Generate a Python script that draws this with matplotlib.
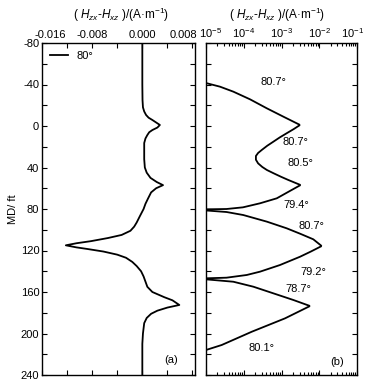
import numpy as np
import matplotlib

matplotlib.use("Agg")
import matplotlib.pyplot as plt
from matplotlib.transforms import ScaledTranslation
from matplotlib.ticker import MultipleLocator, FixedLocator, LogLocator, NullFormatter, FuncFormatter

plt.rcParams["font.family"] = ["Liberation Sans", "DejaVu Sans"]
plt.rcParams["font.size"] = 8
plt.rcParams["axes.unicode_minus"] = False
plt.rcParams["mathtext.fontset"] = "custom"
plt.rcParams["mathtext.rm"] = "Liberation Sans"
plt.rcParams["mathtext.it"] = "Liberation Sans:italic"

# (a) linear difference curve, MD in ft
MD_A = [-80, -40, -25, -18, -14, -10.6, -8, -5.8, -3, -1, 1.5, 3.9, 6, 8.7, 12, 16.4, 23, 32,
        40, 45, 50, 54, 57, 60, 64, 70, 75, 80, 87, 93, 97, 101, 105, 108, 111, 113, 115,
        117, 118.5, 121, 124, 127, 131, 135, 140, 145, 150, 155, 160, 165, 168, 172.5, 175,
        178, 181, 185, 190, 200, 210, 240]
VAL_A = [0.0, 0.0, 0.00003, 0.0001, 0.0003, 0.0006, 0.0010, 0.0016, 0.0023, 0.0028, 0.0024,
         0.0016, 0.0011, 0.0008, 0.0005, 0.0003, 0.0003, 0.0003, 0.0004, 0.0007, 0.0013,
         0.0023, 0.0033, 0.0022, 0.0014, 0.0009, 0.0005, 0.0002, -0.0004, -0.0009, -0.0013,
         -0.0019, -0.0033, -0.0055, -0.0082, -0.0105, -0.0122, -0.0105, -0.0088, -0.0062,
         -0.0040, -0.0026, -0.0016, -0.0009, -0.0002, 0.0002, 0.0005, 0.0008, 0.0016, 0.0035,
         0.0048, 0.0059, 0.0040, 0.0024, 0.0014, 0.0007, 0.0003, 0.0001, 0.0, 0.0]

# (b) absolute difference on log axis, one branch per segment
SEGS_B = [
    ([-41.4, -37.9, -33.1, -25.7, -17.1, -9.0, -1.0],
     [1e-5, 2.35e-5, 5.3e-5, 1.47e-4, 4.06e-4, 1.12e-3, 3.1e-3]),
    ([-1.0, 3.0, 7.0, 11.0, 15.1, 19.0, 23.1, 26.0, 28.9, 32.5, 36.0, 39.5, 42.4, 45.6, 49.0, 52.0, 56.9],
     [3.1e-3, 2.1e-3, 1.37e-3, 9.0e-4, 6.1e-4, 4.2e-4, 3.0e-4, 2.4e-4, 2.1e-4, 2.1e-4, 2.4e-4,
      3.1e-4, 4.1e-4, 6.2e-4, 9.8e-4, 1.51e-3, 3.2e-3]),
    ([56.9, 63.0, 69.7, 74.5, 78.4, 80.0, 80.3],
     [3.2e-3, 1.6e-3, 7.5e-4, 2.7e-4, 9.5e-5, 3.5e-5, 1e-5]),
    ([81.4, 82.9, 85.8, 92.2, 98.6, 104.0, 109.2, 115.7],
     [1e-5, 3.5e-5, 9.7e-5, 4.1e-4, 1.37e-3, 3.2e-3, 6.95e-3, 1.16e-2]),
    ([115.7, 121.0, 126.0, 134.0, 140.4, 143.6, 146.2, 146.8],
     [1.16e-2, 6.0e-3, 3.1e-3, 9.1e-4, 2.7e-4, 1.2e-4, 3.5e-5, 1e-5]),
    ([147.8, 150.1, 154.9, 161.3, 167.7, 173.5],
     [1e-5, 5.3e-5, 1.8e-4, 6.1e-4, 2.06e-3, 5.7e-3]),
    ([173.5, 185.4, 198.3, 211.1, 215.9],
     [5.7e-3, 1.24e-3, 1.63e-4, 2.6e-5, 1e-5]),
]
ANGLE_LABELS = ["80.7°", "80.7°", "80.5°", "79.4°", "80.7°", "79.2°", "78.7°", "80.1°"]
ANGLE_X = [6e-4, 2.3e-3, 3.1e-3, 2.5e-3, 6.3e-3, 6.9e-3, 2.8e-3, 3e-4]
ANGLE_MD = [-42.4, 15, 36, 76.5, 96.4, 140.4, 157.4, 214.3]

XTICKS_A = [-0.016, -0.008, 0.000, 0.008]
TITLE = "( $H_{zx}$-$H_{xz}$ )/(A·m$^{-1}$)"


def style_axes(ax):
    ax.set_ylim(240, -80)
    ax.yaxis.set_major_locator(MultipleLocator(40))
    ax.yaxis.set_minor_locator(MultipleLocator(20))
    ax.tick_params(which="both", direction="in", top=True, bottom=True, left=True, right=True,
                   labeltop=True, labelbottom=False, length=3.5, width=0.8, pad=2)
    for s in ax.spines.values():
        s.set_linewidth(1.0)


def nudge_edge_labels(fig, ax, left_px, right_px):
    # squeeze the outermost top tick labels inward a bit, as in the original
    ticks = ax.xaxis.get_major_ticks()
    for tick, dx in ((ticks[0], left_px), (ticks[-1], -right_px)):
        lab = tick.label2
        lab.set_transform(lab.get_transform() + ScaledTranslation(dx / 100, 0, fig.dpi_scale_trans))


fig = plt.figure(figsize=(3.74, 3.89), dpi=100)
ax_a = fig.add_axes([42 / 374, 14 / 389, 153 / 374, 332 / 389])
ax_b = fig.add_axes([206 / 374, 14 / 389, 151 / 374, 332 / 389])

# panel (a)
ax_a.plot(VAL_A, MD_A, color="black", lw=1.3, label="80°")
style_axes(ax_a)
ax_a.set_xlim(-0.016, 0.0084)
ax_a.xaxis.set_major_locator(FixedLocator(XTICKS_A))
ax_a.xaxis.set_minor_locator(MultipleLocator(0.004))
ax_a.xaxis.set_major_formatter(FuncFormatter(lambda v, p: f"{v:.3f}".replace("-0.000", "0.000")))
ax_a.set_ylabel("MD/ ft", labelpad=2)
ax_a.legend(loc="upper left", frameon=False, handlelength=1.6, handletextpad=0.8,
            borderaxespad=0.3, fontsize=8)
ax_a.text(0.0046, 226, "(a)", ha="center", va="center")

# panel (b)
for md, val in SEGS_B:
    ax_b.plot(val, md, color="black", lw=1.3, solid_capstyle="butt")
style_axes(ax_b)
ax_b.set_xscale("log")
ax_b.set_xlim(1e-5, 1e-1)
ax_b.xaxis.set_major_locator(FixedLocator([1e-5, 1e-4, 1e-3, 1e-2, 1e-1]))
ax_b.xaxis.set_minor_locator(LogLocator(base=10, subs=np.arange(2, 10), numticks=10))
ax_b.xaxis.set_minor_formatter(NullFormatter())
ax_b.tick_params(axis="x", which="minor", length=2)
ax_b.tick_params(axis="y", labelleft=False)
for lab, x, md in zip(ANGLE_LABELS, ANGLE_X, ANGLE_MD):
    ax_b.text(x, md, lab, ha="center", va="center")
ax_b.text(2.9e-2, 227, "(b)", ha="center", va="center")

# axis titles on top, same height for both panels
fig.text(121 / 374, 1 - 15 / 389, TITLE, ha="center", va="center", fontsize=8.5)
fig.text(277 / 374, 1 - 15 / 389, TITLE, ha="center", va="center", fontsize=8.5)

fig.canvas.draw()
nudge_edge_labels(fig, ax_a, 8, 9)
nudge_edge_labels(fig, ax_b, 4, 4)

fig.savefig("out.png", dpi=100)
